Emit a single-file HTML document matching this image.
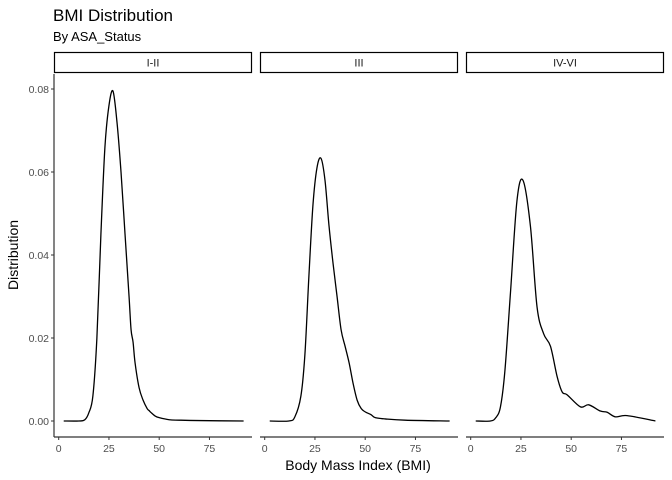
<!DOCTYPE html>
<html><head><meta charset="utf-8"><style>
body{margin:0;background:#fff}
svg{display:block;font-family:"Liberation Sans",Arial,sans-serif}
</style></head><body>
<svg id="chart" width="672" height="480" viewBox="0 0 672 480">
<text x="53" y="21" font-size="17" fill="#000">BMI Distribution</text>
<text x="53" y="41" font-size="13" fill="#000">By ASA_Status</text>
<text transform="translate(18,255) rotate(-90)" text-anchor="middle" font-size="14">Distribution</text>
<text x="358" y="470" text-anchor="middle" font-size="14">Body Mass Index (BMI)</text>
<g id="panels"></g>
</svg>
<script>
const panelNames = ["I-II","III","IV-VI"];
const xTicks = [0,25,50,75];
const yTicks = [0,0.02,0.04,0.06,0.08];
const yTickLabels = ["0.00","0.02","0.04","0.06","0.08"];
const bmi1 = [2.5,10,13,15,17,19,21,23,25,27,29,31,33,35,36,37,38,40,42,44,45,46,48,50,55,60,70,92];
const dens1 = [0,0,0.0003,0.002,0.006,0.02,0.045,0.066,0.076,0.0795,0.072,0.06,0.045,0.03,0.022,0.019,0.014,0.008,0.005,0.003,0.0025,0.002,0.0012,0.0008,0.0003,0.0002,0.0001,0];
const bmi2 = [2.5,12,15,18,20,22,24,26,28,30,32,34,36,38,40,42,44,46,48,50,53,55,60,70,92];
const dens2 = [0,0,0.001,0.006,0.016,0.035,0.052,0.061,0.0633,0.058,0.047,0.038,0.03,0.022,0.018,0.014,0.009,0.005,0.003,0.0022,0.0015,0.0008,0.0005,0.0002,0];
const bmi3 = [2.5,9.8,12.5,14.8,17,19.8,23,26,29.7,33,36.3,39.7,43,45.5,48,54.6,58.7,64.5,67.9,72,77.8,91.9];
const dens3 = [0,0,0.0008,0.0034,0.012,0.031,0.053,0.058,0.047,0.0275,0.021,0.018,0.0107,0.007,0.0063,0.0034,0.0039,0.0024,0.0021,0.001,0.0013,0];
const seriesX = [bmi1,bmi2,bmi3];
const seriesY = [dens1,dens2,dens3];

const NS="http://www.w3.org/2000/svg";
const g=document.getElementById('panels');
const panelLeft=[54,260,466], panelW=198;
const yScale=v=>421-v*4150;
function mk(tag,attrs,parent){const e=document.createElementNS(NS,tag);for(const k in attrs)e.setAttribute(k,attrs[k]);parent.appendChild(e);return e;}
panelNames.forEach((name,i)=>{
  const L=panelLeft[i];
  const xScale=v=>L+4.7+v*2.01;
  const pg=mk('g',{},g);
  
  
  const strip=mk('rect',{x:L+0.5,y:52.5,width:panelW-1,height:20,fill:'#fff',stroke:'#000','stroke-width':1.2},pg);
  
  
  const st=mk('text',{x:L+panelW/2,y:66.5,'text-anchor':'middle','font-size':11,fill:'#1a1a1a'},pg);
  st.textContent=name;
  
  
  const ax=mk('line',{x1:L,x2:L+panelW,y1:437,y2:437,stroke:'#333','stroke-width':1.2},pg);
  
  
  if(i===0){
    const ay=mk('line',{x1:L,x2:L,y1:74,y2:437,stroke:'#333','stroke-width':1.2},pg);
    
    
    yTicks.forEach((t,j)=>{
      const y=yScale(t);
      mk('line',{x1:L-3,x2:L,y1:y,y2:y,stroke:'#333'},pg);
      const tl=mk('text',{x:L-5,y:y+4,'text-anchor':'end','font-size':10.5,fill:'#4d4d4d'},pg);
      tl.textContent=yTickLabels[j];
      
      
    });
  }
  xTicks.forEach(t=>{
    const x=xScale(t);
    mk('line',{x1:x,x2:x,y1:437,y2:440,stroke:'#333'},pg);
    const tl=mk('text',{x:x,y:452,'text-anchor':'middle','font-size':10.5,fill:'#4d4d4d'},pg);
    tl.textContent=t;
    
    
  });
  const xs=seriesX[i], ys=seriesY[i];
  const pts=xs.map((v,k)=>[xScale(v),yScale(ys[k])]);
  let d='M'+pts[0][0]+','+pts[0][1];
  for(let k=0;k<pts.length-1;k++){
    const p0=pts[Math.max(0,k-1)],p1=pts[k],p2=pts[k+1],p3=pts[Math.min(pts.length-1,k+2)];
    const c1=[p1[0]+(p2[0]-p0[0])/6,p1[1]+(p2[1]-p0[1])/6];
    const c2=[p2[0]-(p3[0]-p1[0])/6,p2[1]-(p3[1]-p1[1])/6];
    d+=' C'+c1+' '+c2+' '+p2;
  }
  const path=mk('path',{d:d,fill:'none',stroke:'#000','stroke-width':1.3},pg);
  
  
});
</script>
</body></html>
